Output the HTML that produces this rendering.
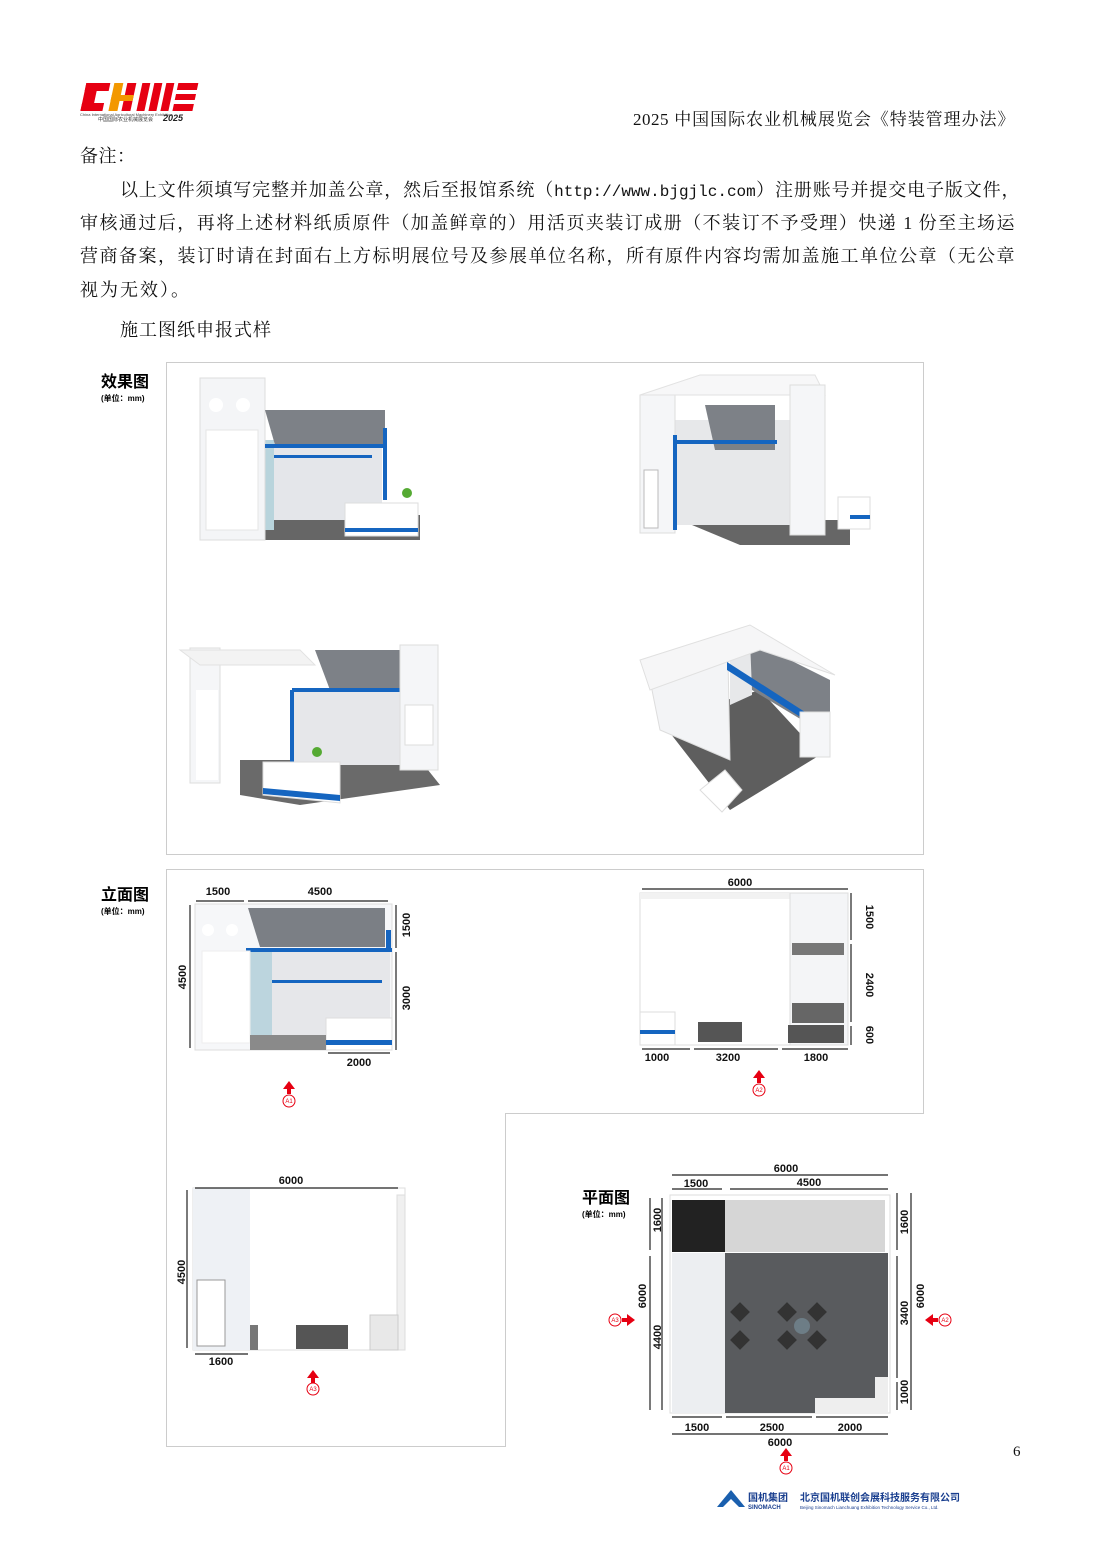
<!DOCTYPE html>
<html><head><meta charset="utf-8"><style>
html,body{margin:0;padding:0;background:#fff}
body{width:1102px;height:1559px;position:relative;overflow:hidden;font-family:"Liberation Serif","Noto Serif CJK SC",serif;color:#111}
.t{position:absolute;font-size:18px;white-space:nowrap;letter-spacing:0.5px}
.j{text-align:justify;text-align-last:justify;white-space:normal}
.m{font-family:"Liberation Mono","Noto Serif CJK SC",monospace;font-size:16px;letter-spacing:0}
svg{position:absolute;left:0;top:0}
</style></head><body>
<svg width="1102" height="1559" viewBox="0 0 1102 1559" font-family="Liberation Sans, Noto Sans CJK SC, sans-serif">
<!-- logo -->
<g transform="skewX(-12)">
<rect x="104" y="83" width="12" height="28" fill="#e60012"/><rect x="104" y="83" width="24" height="8" fill="#e60012"/><rect x="104" y="103" width="22" height="8" fill="#e60012"/>
<rect x="132" y="83" width="9" height="28" fill="#f39800"/><rect x="145" y="83" width="9" height="28" fill="#e60012"/><rect x="132" y="95" width="22" height="6" fill="#f39800"/>
<rect x="160" y="83" width="8" height="28" fill="#e60012"/><rect x="172" y="83" width="8" height="28" fill="#e60012"/><rect x="184" y="83" width="8" height="28" fill="#e60012"/>
<rect x="196" y="83" width="20" height="7" fill="#e60012"/><rect x="196" y="94" width="20" height="6" fill="#e60012"/><rect x="196" y="104" width="20" height="7" fill="#e60012"/>
</g>
<text x="80" y="116" font-size="4" fill="#444">China International Agricultural Machinery Exhibition</text>
<text x="98" y="121" font-size="5" fill="#333">中国国际农业机械展览会</text>
<text x="163" y="121" font-size="9" font-weight="bold" font-style="italic" fill="#222">2025</text>

<rect x="166.5" y="362.5" width="757" height="492" fill="none" stroke="#ccc"/>
<path d="M166.5 869.5 H923.5 V1113.5 H505.5 V1446.5 H166.5 Z" fill="none" stroke="#ccc"/>

<g font-weight="bold">
<text x="101" y="387" font-size="16">效果图</text><text x="101" y="401" font-size="8">(单位：mm)</text>
<text x="101" y="900" font-size="16">立面图</text><text x="101" y="914" font-size="8">(单位：mm)</text>
<text x="582" y="1203" font-size="16">平面图</text><text x="582" y="1217" font-size="8">(单位：mm)</text>
</g>

<g>
<rect x="255" y="515" width="165" height="25" fill="#666"/>
<rect x="262" y="440" width="120" height="80" fill="#e4e6ea"/>
<rect x="262" y="455" width="110" height="3" fill="#1565c0"/>
<rect x="262" y="440" width="12" height="90" fill="#b8d4dc"/>
<rect x="200" y="378" width="65" height="162" fill="#f4f5f7" stroke="#ddd"/>
<rect x="206" y="430" width="52" height="100" fill="#fff" stroke="#e5e5e5"/>
<circle cx="216" cy="405" r="7" fill="#fff"/><circle cx="243" cy="405" r="7" fill="#fff"/>
<polygon points="265,410 385,410 385,445 275,445" fill="#7d8187"/>
<rect x="265" y="444" width="122" height="4" fill="#1565c0"/>
<rect x="383" y="428" width="4" height="72" fill="#1565c0"/>
<rect x="345" y="503" width="73" height="33" fill="#fff" stroke="#ddd"/>
<rect x="345" y="528" width="73" height="4" fill="#1565c0"/>
<circle cx="407" cy="493" r="5" fill="#5a3"/>
</g>
<g>
<polygon points="680,520 850,520 850,545 740,545" fill="#666"/>
<rect x="675" y="420" width="120" height="105" fill="#e7e8ea"/>
<rect x="640" y="395" width="35" height="138" fill="#f5f6f8" stroke="#ddd"/>
<rect x="644" y="470" width="14" height="58" fill="#fff" stroke="#bbb"/>
<polygon points="640,395 700,375 815,375 825,395" fill="#f7f7f8" stroke="#e2e2e2"/>
<rect x="673" y="435" width="4" height="95" fill="#1565c0"/>
<polygon points="705,405 775,405 775,450 715,450" fill="#7d8187"/>
<rect x="677" y="440" width="100" height="4" fill="#1565c0"/>
<rect x="790" y="385" width="35" height="150" fill="#f5f6f8" stroke="#ddd"/>
<rect x="838" y="497" width="32" height="32" fill="#fff" stroke="#ddd"/><rect x="850" y="515" width="20" height="4" fill="#1565c0"/>
</g>
<g>
<polygon points="240,760 420,760 440,785 300,805 240,795" fill="#6a6a6a"/>
<rect x="190" y="648" width="30" height="135" fill="#f5f6f8" stroke="#ddd"/>
<rect x="196" y="690" width="22" height="90" fill="#fff"/>
<polygon points="180,650 300,650 315,665 200,665" fill="#f3f3f3" stroke="#e2e2e2"/>
<rect x="290" y="690" width="118" height="75" fill="#e6e7ea"/>
<rect x="290" y="690" width="4" height="80" fill="#1565c0"/>
<polygon points="315,650 410,650 410,690 330,690" fill="#7d8187"/>
<rect x="292" y="688" width="118" height="4" fill="#1565c0"/>
<rect x="400" y="645" width="38" height="125" fill="#f5f6f8" stroke="#ddd"/>
<rect x="405" y="705" width="28" height="40" fill="#fff" stroke="#ddd"/>
<polygon points="263,762 340,762 340,803 263,795" fill="#fff" stroke="#ddd"/>
<polygon points="263,788 340,795 340,801 263,794" fill="#1565c0"/>
<circle cx="317" cy="752" r="5" fill="#5a3"/>
</g>
<g>
<polygon points="660,720 760,690 820,755 730,810" fill="#5e5e5e"/>
<polygon points="650,680 728,660 730,760 660,730" fill="#f3f4f6" stroke="#ddd"/>
<polygon points="730,660 752,645 752,695 730,705" fill="#e7e8ea"/>
<polygon points="750,640 830,680 830,720 802,720 752,690" fill="#7d8187"/>
<polygon points="640,660 750,625 835,675 760,650 650,690" fill="#f6f6f7" stroke="#e0e0e0"/>
<polygon points="727,662 805,712 805,720 727,670" fill="#1565c0"/>
<rect x="800" y="712" width="30" height="45" fill="#f5f6f8" stroke="#ddd"/>
<polygon points="700,790 725,770 742,790 722,812" fill="#fff" stroke="#ddd"/>
</g>

<g>
<rect x="195" y="904" width="197" height="146" fill="#f6f7f9" stroke="#ddd"/>
<rect x="250" y="950" width="140" height="100" fill="#e6e7ea"/>
<rect x="250" y="950" width="22" height="100" fill="#bcd5de"/>
<rect x="272" y="980" width="110" height="3" fill="#1565c0"/>
<polygon points="248,908 385,908 385,947 260,947" fill="#7b7f85"/>
<rect x="246" y="948" width="146" height="4" fill="#1565c0"/>
<rect x="386" y="930" width="5" height="20" fill="#1565c0"/>
<rect x="202" y="951" width="48" height="92" fill="#fff" stroke="#eee"/>
<circle cx="208" cy="930" r="6" fill="#fff"/><circle cx="232" cy="930" r="6" fill="#fff"/>
<rect x="326" y="1018" width="66" height="32" fill="#fff" stroke="#ddd"/><rect x="326" y="1040" width="66" height="5" fill="#1565c0"/>
<rect x="250" y="1035" width="76" height="15" fill="#8a8a8a"/>
</g>
<g>
<rect x="640" y="893" width="208" height="152" fill="#fff" stroke="#ddd"/>
<rect x="640" y="893" width="208" height="6" fill="#f2f2f2"/>
<rect x="790" y="893" width="58" height="152" fill="#f4f5f7" stroke="#ddd"/>
<rect x="792" y="943" width="52" height="12" fill="#777"/>
<rect x="792" y="1003" width="52" height="20" fill="#666"/>
<rect x="788" y="1025" width="56" height="18" fill="#555"/>
<rect x="640" y="1012" width="35" height="33" fill="#fff" stroke="#ddd"/><rect x="640" y="1030" width="35" height="4" fill="#1565c0"/>
<rect x="698" y="1022" width="44" height="20" fill="#555"/>
</g>
<g>
<rect x="193" y="1188" width="212" height="162" fill="#fff" stroke="#ddd"/>
<rect x="193" y="1188" width="57" height="162" fill="#eef1f5"/>
<rect x="197" y="1280" width="28" height="66" fill="#fff" stroke="#999"/>
<rect x="397" y="1195" width="8" height="155" fill="#f0f0f0" stroke="#ddd"/>
<rect x="370" y="1315" width="28" height="35" fill="#e8e8e8" stroke="#ccc"/>
<rect x="296" y="1325" width="52" height="24" fill="#555"/>
<rect x="250" y="1325" width="8" height="25" fill="#777"/>
</g>
<g>
<rect x="670" y="1195" width="220" height="218" fill="#fff" stroke="#ddd"/>
<rect x="672" y="1200" width="53" height="52" fill="#222"/>
<rect x="725" y="1200" width="160" height="52" fill="#d6d6d6"/>
<rect x="725" y="1253" width="163" height="160" fill="#595b5e"/>
<rect x="672" y="1253" width="53" height="160" fill="#eceef1"/>
<rect x="815" y="1398" width="73" height="15" fill="#eee"/>
<rect x="875" y="1377" width="13" height="36" fill="#eee"/>
<g fill="#333"><rect x="780" y="1305" width="14" height="14" transform="rotate(45 787 1312)"/><rect x="810" y="1305" width="14" height="14" transform="rotate(45 817 1312)"/><rect x="780" y="1333" width="14" height="14" transform="rotate(45 787 1340)"/><rect x="810" y="1333" width="14" height="14" transform="rotate(45 817 1340)"/><rect x="733" y="1305" width="14" height="14" transform="rotate(45 740 1312)"/><rect x="733" y="1333" width="14" height="14" transform="rotate(45 740 1340)"/></g>
<circle cx="802" cy="1326" r="8" fill="#6d7d86"/>
</g>

<g stroke="#222" stroke-width="1.2" fill="none">
<path d="M196 901H244M248 901H388M190 905V1048M396 905V948M396 952V1050M328 1053H390"/>
<path d="M642 889H848M851 893V940M851 944V1022M851 1026V1045M642 1049H690M694 1049H778M782 1049H848"/>
<path d="M195 1188H398M187 1190V1348M195 1354H248"/>
<path d="M672 1175H888M672 1189H722M730 1189H888M650 1198V1250M650 1256V1410M662 1198V1410M897 1193V1250M897 1256V1378M897 1382V1410M911 1193V1410M672 1417H722M726 1417H812M816 1417H888M672 1434H888"/>
</g>
<g font-size="11" font-weight="bold" fill="#111" text-anchor="middle">
<text x="218" y="895">1500</text><text x="320" y="895">4500</text><text x="359" y="1066">2000</text>
<text x="186" y="977" transform="rotate(-90 186 977)">4500</text><text x="410" y="925" transform="rotate(-90 410 925)">1500</text><text x="410" y="998" transform="rotate(-90 410 998)">3000</text>
<text x="740" y="886">6000</text><text x="657" y="1061">1000</text><text x="728" y="1061">3200</text><text x="816" y="1061">1800</text>
<text x="866" y="917" transform="rotate(90 866 917)">1500</text><text x="866" y="985" transform="rotate(90 866 985)">2400</text><text x="866" y="1035" transform="rotate(90 866 1035)">600</text>
<text x="291" y="1184">6000</text><text x="185" y="1272" transform="rotate(-90 185 1272)">4500</text><text x="221" y="1365">1600</text>
<text x="786" y="1172">6000</text><text x="696" y="1187">1500</text><text x="809" y="1186">4500</text>
<text x="661" y="1220" transform="rotate(-90 661 1220)">1600</text><text x="646" y="1296" transform="rotate(-90 646 1296)">6000</text><text x="661" y="1337" transform="rotate(-90 661 1337)">4400</text>
<text x="908" y="1222" transform="rotate(-90 908 1222)">1600</text><text x="908" y="1313" transform="rotate(-90 908 1313)">3400</text><text x="908" y="1392" transform="rotate(-90 908 1392)">1000</text><text x="924" y="1296" transform="rotate(-90 924 1296)">6000</text>
<text x="697" y="1431">1500</text><text x="772" y="1431">2500</text><text x="850" y="1431">2000</text><text x="780" y="1446">6000</text>
</g>
<g fill="#e60012" font-size="6" text-anchor="middle">
<polygon points="289,1081 283,1089 287,1089 287,1094 291,1094 291,1089 295,1089"/><circle cx="289" cy="1101" r="6" fill="#fff" stroke="#e60012"/><text x="289" y="1103">A1</text>
<polygon points="759,1070 753,1078 757,1078 757,1083 761,1083 761,1078 765,1078"/><circle cx="759" cy="1090" r="6" fill="#fff" stroke="#e60012"/><text x="759" y="1092">A2</text>
<polygon points="313,1370 307,1378 311,1378 311,1383 315,1383 315,1378 319,1378"/><circle cx="313" cy="1389" r="6" fill="#fff" stroke="#e60012"/><text x="313" y="1391">A3</text>
<polygon points="786,1448 780,1456 784,1456 784,1461 788,1461 788,1456 792,1456"/><circle cx="786" cy="1468" r="6" fill="#fff" stroke="#e60012"/><text x="786" y="1470">A1</text>
<polygon points="635,1320 627,1314 627,1318 622,1318 622,1322 627,1322 627,1326"/><circle cx="615" cy="1320" r="6" fill="#fff" stroke="#e60012"/><text x="615" y="1322">A3</text>
<polygon points="925,1320 933,1314 933,1318 938,1318 938,1322 933,1322 933,1326"/><circle cx="945" cy="1320" r="6" fill="#fff" stroke="#e60012"/><text x="945" y="1322">A2</text>
</g>
<polygon points="717,1507 731,1490 745,1507" fill="#1a5fae"/><polygon points="722,1508 731,1499 740,1508" fill="#fff"/>
<text x="748" y="1501" font-size="10" font-weight="bold" fill="#1a3f8f">国机集团</text>
<text x="748" y="1509" font-size="6" font-weight="bold" fill="#1a3f8f">SINOMACH</text>
<text x="800" y="1501" font-size="10" font-weight="bold" fill="#1a3f8f">北京国机联创会展科技服务有限公司</text>
<text x="800" y="1509" font-size="4.5" fill="#1a3f8f">Beijing Sinomach Lianchuang Exhibition Technology Service Co., Ltd.</text>
</svg>

<div class="t j" style="left:633px;top:105px;width:382px;font-size:17px">2025 中国国际农业机械展览会《特装管理办法》</div>
<div class="t" style="left:80px;top:142px">备注：</div>
<div class="t j" style="left:120px;top:176px;width:900px">以上文件须填写完整并加盖公章，然后至报馆系统（<span class="m">http://www.bjgjlc.com</span>）注册账号并提交电子版文件，</div>
<div class="t j" style="left:80px;top:209px;width:935px">审核通过后，再将上述材料纸质原件（加盖鲜章的）用活页夹装订成册（不装订不予受理）快递 1 份至主场运</div>
<div class="t j" style="left:80px;top:242px;width:935px">营商备案，装订时请在封面右上方标明展位号及参展单位名称，所有原件内容均需加盖施工单位公章（无公章</div>
<div class="t" style="left:80px;top:276px;letter-spacing:2px">视为无效）。</div>
<div class="t" style="left:120px;top:316px;letter-spacing:1px">施工图纸申报式样</div>
<div class="t" style="left:1013px;top:1444px;font-size:15px">6</div>
</body></html>
